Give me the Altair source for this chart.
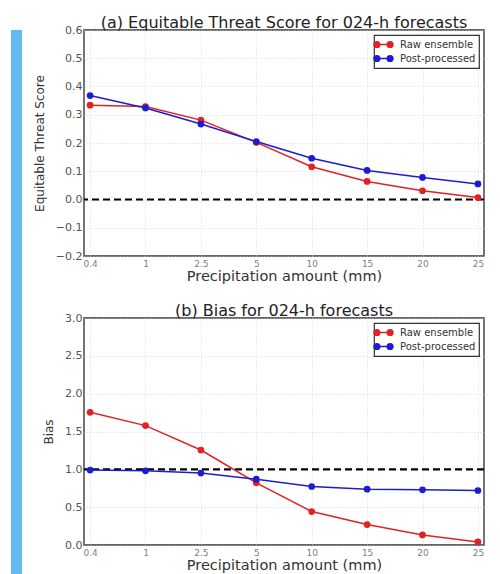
import altair as alt
import pandas as pd

amounts = ["0.4", "1", "2.5", "5", "10", "15", "20", "25"]
series = ["Raw ensemble", "Post-processed"]
colors = ["#e02222", "#1c1cd4"]

ets_raw = [0.334, 0.329, 0.281, 0.202, 0.116, 0.064, 0.031, 0.007]
ets_post = [0.368, 0.324, 0.267, 0.205, 0.146, 0.103, 0.078, 0.055]
bias_raw = [1.754, 1.578, 1.255, 0.822, 0.442, 0.270, 0.133, 0.040]
bias_post = [0.990, 0.980, 0.950, 0.870, 0.773, 0.738, 0.729, 0.720]

ets_ticks = [-0.2, -0.1, 0.0, 0.1, 0.2, 0.3, 0.4, 0.5, 0.6]
bias_ticks = [0.0, 0.5, 1.0, 1.5, 2.0, 2.5, 3.0]


def long_df(raw, post):
    rows = []
    for a, v in zip(amounts, raw):
        rows.append({"amount": a, "value": v, "series": series[0]})
    for a, v in zip(amounts, post):
        rows.append({"amount": a, "value": v, "series": series[1]})
    return pd.DataFrame(rows)


FONT = "DejaVu Sans"
legend_symbol = ("M-1.82,0L1.82,0"
                 "M-1.72,0A0.52,0.52,0,1,1,-0.68,0A0.52,0.52,0,1,1,-1.72,0Z"
                 "M0.68,0A0.52,0.52,0,1,1,1.72,0A0.52,0.52,0,1,1,0.68,0Z")


def panel(df, title, ytitle, domain, ticks, ref_value, height):
    x = alt.X("amount:N", sort=amounts, title="Precipitation amount (mm)",
              scale=alt.Scale(type="point", padding=0.11),
              axis=alt.Axis(labelAngle=0, labelPadding=3, titlePadding=1,
                            labelFontSize=9, labelColor="#808080", titleFontSize=14.5))
    y = alt.Y("value:Q", title=ytitle,
              scale=alt.Scale(domain=domain, nice=False, zero=False),
              axis=alt.Axis(values=ticks, format=".1f", titlePadding=9,
                            labelOverlap=False, labelFontSize=11, labelColor="#555",
                            titleFontSize=12))
    color = alt.Color("series:N", sort=series,
                      scale=alt.Scale(domain=series, range=colors),
                      legend=alt.Legend(title=None, orient="top-right",
                                        symbolType=legend_symbol))
    base = alt.Chart(df)
    ref = alt.Chart(pd.DataFrame({"value": [ref_value]})).mark_rule(
        color="black", strokeWidth=2.2, strokeDash=[7, 4]).encode(y=y)
    line = base.mark_line(strokeWidth=1.5).encode(x=x, y=y, color=color)
    pts = base.mark_point(filled=True, size=45, opacity=1).encode(x=x, y=y, color=color)
    return alt.layer(ref, line, pts).properties(
        width=400, height=height,
        title=alt.TitleParams(title, fontSize=16, font=FONT, fontWeight="normal",
                              color="#222", offset=-7))


top = panel(long_df(ets_raw, ets_post), "(a) Equitable Threat Score for 024-h forecasts",
            "Equitable Threat Score", [-0.2, 0.6], ets_ticks, 0.0, 226)
bottom = panel(long_df(bias_raw, bias_post), "(b) Bias for 024-h forecasts",
               "Bias", [0.0, 3.0], bias_ticks, 1.0, 227)

main = alt.vconcat(top, bottom, spacing=18).resolve_scale(color="independent")

strip = alt.Chart(pd.DataFrame({"a": [0]})).mark_point(opacity=0).encode(
    x=alt.value(0), y=alt.value(0)).properties(
    width=11, height=545, view=alt.ViewBackground(fill="#63b9f0", stroke=None))

chart = alt.hconcat(strip, main, spacing=10).properties(
    padding={"left": 0, "top": 6, "right": 0, "bottom": 0}
).configure(font=FONT).configure_view(
    stroke="#666", strokeWidth=1.8
).configure_axis(
    labelFont=FONT, titleFont=FONT,
    titleColor="#333", titleFontWeight="normal",
    grid=True, gridColor="#d0d0d0", gridDash=[1, 2], gridWidth=0.8,
    domain=False, ticks=False
).configure_legend(
    labelFont=FONT, labelFontSize=10, labelColor="#333",
    strokeColor="#333", strokeWidth=1.2, fillColor="white",
    padding=3, offset=5, rowPadding=1, symbolSize=121, symbolStrokeWidth=1.5,
    labelOffset=10
)

chart.save("out.html", embed_options={"renderer": "svg", "actions": False})
